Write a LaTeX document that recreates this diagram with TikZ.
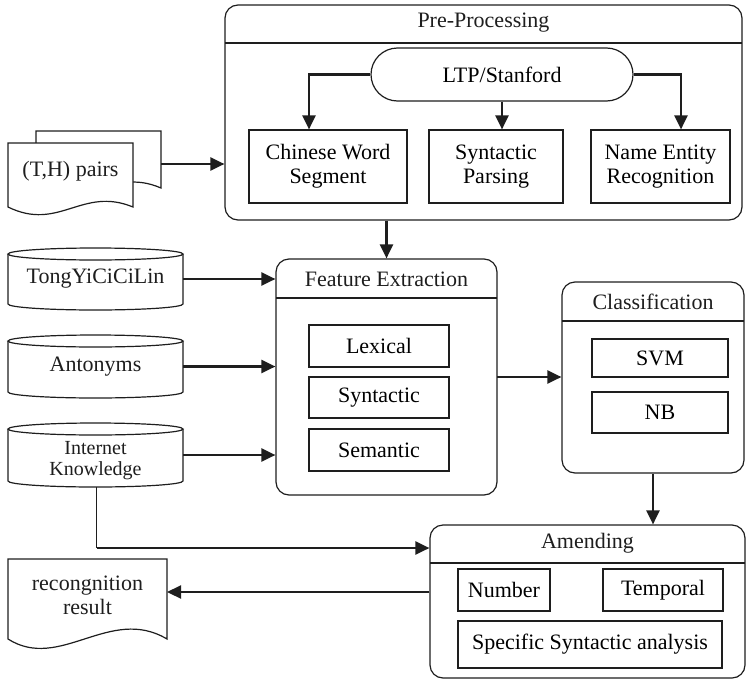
\documentclass[tikz,border=0pt]{standalone}
\usepackage{fontspec}
\setmainfont{Liberation Serif}
\usetikzlibrary{arrows.meta,shapes.misc}

\definecolor{ink}{HTML}{1E1E1E}

\tikzset{
  shp/.style={draw=ink, line width=1.2pt, fill=white},
  container/.style={shp, rounded corners=13pt, inner sep=0pt},
  itembox/.style={draw=ink, line width=1.2pt, inner sep=0pt, align=center},
  label/.style={inner sep=0pt, align=center, text=ink},
  arr/.style={draw=ink, line width=2.2pt, -{Triangle[length=14pt,width=13pt]}},
  plain/.style={draw=ink, line width=1.3pt},
}

\begin{document}
\begin{tikzpicture}[x=1pt, y=-1pt, font=\fontsize{22}{24}\selectfont]
\useasboundingbox (0,0) rectangle (746,680);

% ---------- Pre-processing ----------
\node[container, minimum width=517pt, minimum height=215pt] (pre) at (483.5,112.5) {};
\draw[plain] (225,43) -- (742,43);
\node[label] (preT) at (483.5,23) {Pre-Processing};
\node[shp, rounded rectangle, minimum width=262pt, minimum height=53pt, inner sep=0pt]
  (ltp) at (502,74.5) {LTP/Stanford};
\node[itembox, minimum width=158pt, minimum height=73pt] (cws) at (328,166.5) {Chinese Word\\Segment};
\node[itembox, minimum width=134pt, minimum height=73pt] (sp)  at (496,166.5) {Syntactic\\Parsing};
\node[itembox, minimum width=139pt, minimum height=73pt] (ner) at (660.5,166.5) {Name Entity\\Recognition};
\draw[arr] (ltp.west) -| ([xshift=-19pt]cws.north);
\draw[arr] (ltp.south) -- (ltp.south |- sp.north);
\draw[arr] (ltp.east) -| ([xshift=20.5pt]ner.north);

% ---------- (T,H) pairs documents ----------
\draw[shp] (36,131) -- (161,131) -- (161,188)
  .. controls (110,166) and (87,214) .. (36,188) -- cycle;
\draw[shp] (8,143) -- (133,143) -- (133,207)
  .. controls (82,186) and (59,232) .. (8,207) -- cycle;
\node[label] (th) at (70.5,171) {(T,H) pairs};
\coordinate (thOut) at (161,164);
\draw[arr] (thOut) -- (thOut -| pre.west);

% ---------- Feature extraction ----------
\node[container, minimum width=221pt, minimum height=236pt] (fe) at (386.5,377) {};
\draw[plain] (276,298) -- (497,298);
\node[label] (feT) at (386.5,279) {Feature Extraction};
\node[itembox, minimum width=140pt, minimum height=42pt] (lex) at (379,346) {Lexical};
\node[itembox, minimum width=140pt, minimum height=41pt] (syn) at (379,397.5) {Syntactic};
\node[itembox, minimum width=140pt, minimum height=42pt] (sem) at (379,450) {Semantic};
\draw[arr] (fe.north |- pre.south) -- (fe.north);

% ---------- Resources (cylinders) ----------
\newcommand\drum[4]{% x0, x1, top, bottom
  \draw[shp] (#1,#3+6) -- (#1,#4-6)
    arc[start angle=180, end angle=360, x radius={(#2-#1)/2*1pt}, y radius=6pt]
    -- (#2,#3+6);
  \draw[shp] ({(#1+#2)/2},#3+6) ellipse [x radius={(#2-#1)/2*1pt}, y radius=6pt];
}
\drum{8}{183}{248}{310}
\drum{8}{183}{335}{398}
\drum{8}{183}{423}{487}
\node[label, minimum width=175pt] (tyc) at (95.5,279) {TongYiCiCiLin};
\node[label, minimum width=175pt] (ant) at (95.5,366.5) {Antonyms};
\node[label, minimum width=175pt, font=\fontsize{20}{21}\selectfont] (inet) at (95.5,461) {Internet\\Knowledge};
\coordinate (inetB) at (96.5,487);
\draw[arr] (tyc.east) -- (tyc.east -| fe.west);
\draw[arr] (ant.east) -- (ant.east -| fe.west);
\draw[arr] (inet.east |- 0,455) -- (fe.west |- 0,455);

% ---------- Classification ----------
\node[container, minimum width=182pt, minimum height=191pt] (cls) at (653,377.5) {};
\draw[plain] (562,321) -- (744,321);
\node[label] (clsT) at (653,302) {Classification};
\node[itembox, minimum width=136pt, minimum height=38pt] (svm) at (660,358) {SVM};
\node[itembox, minimum width=136pt, minimum height=41pt] (nb)  at (660,412.5) {NB};
\coordinate (feOut) at (497,377);
\draw[arr] (feOut) -- (feOut -| cls.west);

% ---------- Amending ----------
\node[container, minimum width=315pt, minimum height=153pt] (amd) at (587.5,601.5) {};
\draw[plain] (430,563) -- (745,563);
\node[label] (amdT) at (587.5,543) {Amending};
\node[itembox, minimum width=92pt,  minimum height=42pt] (num)  at (504,590) {Number};
\node[itembox, minimum width=120pt, minimum height=42pt] (tmp)  at (663,590) {Temporal};
\node[itembox, minimum width=264pt, minimum height=47pt] (spec) at (590,644.5) {Specific Syntactic analysis};
\draw[arr] (cls.south) -- (cls.south |- amd.north);
\coordinate (knee) at (96.5,548);
\draw[plain] (inetB) -- (knee);
\draw[arr] (knee) -- (knee -| amd.west);

% ---------- Recognition result ----------
\draw[shp] (8,559) -- (167,559) -- (167,639)
  .. controls (110,605) and (60,672) .. (8,639) -- cycle;
\node[label] (rec) at (87.5,595) {recongnition\\result};
\coordinate (recIn) at (167,592);
\draw[arr] (recIn -| amd.west) -- (recIn);
\end{tikzpicture}
\end{document}
